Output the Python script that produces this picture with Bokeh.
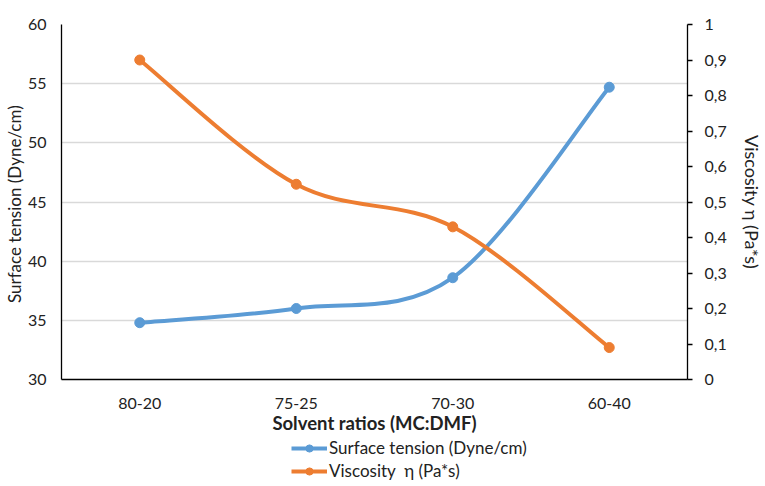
import numpy as np
from bokeh.plotting import figure
from bokeh.layouts import column
from bokeh.models import Range1d, LinearAxis, FixedTicker, Legend, LegendItem
from bokeh.embed import file_html
from bokeh.resources import INLINE

categories = ["80-20", "75-25", "70-30", "60-40"]
surface_tension = [34.8, 36.0, 38.6, 54.7]
viscosity = [0.90, 0.55, 0.43, 0.09]
left_ticks = [30, 35, 40, 45, 50, 55, 60]
right_ticks = [0.0, 0.1, 0.2, 0.3, 0.4, 0.5, 0.6, 0.7, 0.8, 0.9, 1.0]
right_tick_labels = ["0", "0,1", "0,2", "0,3", "0,4", "0,5", "0,6", "0,7", "0,8", "0,9", "1"]
series_names = ["Surface tension (Dyne/cm)", "Viscosity  η (Pa*s)"]

FONT = "Lato"
TXT = "#222222"
BLUE = "#5B9BD5"
ORANGE = "#ED7D31"

xs = np.arange(len(categories)) + 0.5


def smooth_segments(x, y):
    x = np.asarray(x, float)
    y = np.asarray(y, float)
    n = len(x)
    px = np.concatenate([[x[0]], x, [x[-1]]])
    py = np.concatenate([[y[0]], y, [y[-1]]])
    seg = dict(x0=[], y0=[], x1=[], y1=[], cx0=[], cy0=[], cx1=[], cy1=[])
    for i in range(n - 1):
        p0x, p0y = px[i], py[i]
        p1x, p1y = px[i + 1], py[i + 1]
        p2x, p2y = px[i + 2], py[i + 2]
        p3x, p3y = px[i + 3], py[i + 3]
        seg["x0"].append(p1x); seg["y0"].append(p1y)
        seg["x1"].append(p2x); seg["y1"].append(p2y)
        seg["cx0"].append(p1x + (p2x - p0x) / 6.0)
        seg["cy0"].append(p1y + (p2y - p0y) / 6.0)
        seg["cx1"].append(p2x - (p3x - p1x) / 6.0)
        seg["cy1"].append(p2y - (p3y - p1y) / 6.0)
    return seg


p = figure(width=765, height=437, output_backend="svg", toolbar_location=None,
           x_range=Range1d(0, len(categories)), y_range=Range1d(30, 60),
           min_border_left=61, min_border_right=78, min_border_top=24,
           min_border_bottom=58)
p.extra_y_ranges = {"visc": Range1d(0, 1)}
p.outline_line_color = None
p.background_fill_color = "white"
p.border_fill_color = "white"

# left axis
ya = p.yaxis[0]
ya.ticker = FixedTicker(ticks=left_ticks)
ya.axis_label = "Surface tension  (Dyne/cm)"
ya.axis_line_color = "black"
ya.axis_line_width = 1.3
ya.major_tick_line_color = None
ya.minor_tick_line_color = None
ya.major_label_standoff = 9
ya.axis_label_standoff = 0
ya.major_label_text_font = FONT
ya.major_label_text_font_size = "16px"
ya.major_label_text_color = TXT
ya.axis_label_text_font = FONT
ya.axis_label_text_font_size = "17px"
ya.axis_label_text_font_style = "normal"
ya.axis_label_text_color = TXT

# bottom axis
xa = p.xaxis[0]
xa.ticker = FixedTicker(ticks=list(xs))
xa.major_label_overrides = {float(v): c for v, c in zip(xs, categories)}
xa.axis_label = "Solvent ratios (MC:DMF)"
xa.axis_line_color = "black"
xa.axis_line_width = 1.3
xa.major_tick_line_color = None
xa.minor_tick_line_color = None
xa.major_label_standoff = 12
xa.axis_label_standoff = 0
xa.major_label_text_font = FONT
xa.major_label_text_font_size = "16px"
xa.major_label_text_color = TXT
xa.axis_label_text_font = FONT
xa.axis_label_text_font_size = "18.5px"
xa.axis_label_text_font_style = "bold"
xa.axis_label_text_color = TXT

# right axis
ra = LinearAxis(y_range_name="visc", ticker=FixedTicker(ticks=right_ticks))
ra.major_label_overrides = {float(v): s for v, s in zip(right_ticks, right_tick_labels)}
ra.axis_label = "Viscosity η (Pa*s)"
ra.axis_line_color = "black"
ra.axis_line_width = 1.3
ra.major_tick_line_color = "black"
ra.major_tick_line_width = 1.3
ra.major_tick_in = 0
ra.major_tick_out = 5
ra.minor_tick_line_color = None
ra.major_label_standoff = 12
ra.axis_label_standoff = 11
ra.major_label_text_font = FONT
ra.major_label_text_font_size = "16px"
ra.major_label_text_color = TXT
ra.axis_label_text_font = FONT
ra.axis_label_text_font_size = "18px"
ra.axis_label_text_font_style = "normal"
ra.axis_label_text_color = TXT
p.add_layout(ra, "right")

p.xgrid.grid_line_color = None
p.ygrid.grid_line_color = "#D9D9D9"
p.ygrid.grid_line_width = 1.3
p.ygrid.ticker = FixedTicker(ticks=left_ticks)

# series
s1 = smooth_segments(xs, surface_tension)
p.bezier(x0="x0", y0="y0", x1="x1", y1="y1", cx0="cx0", cy0="cy0", cx1="cx1", cy1="cy1",
         source=s1, line_color=BLUE, line_width=4, line_cap="round")
p.scatter(xs, surface_tension, size=10, fill_color=BLUE, line_color=BLUE)

s2 = smooth_segments(xs, viscosity)
p.bezier(x0="x0", y0="y0", x1="x1", y1="y1", cx0="cx0", cy0="cy0", cx1="cx1", cy1="cy1",
         source=s2, line_color=ORANGE, line_width=4, line_cap="round", y_range_name="visc")
p.scatter(xs, viscosity, size=10, fill_color=ORANGE, line_color=ORANGE, y_range_name="visc")

# legend strip below the chart
lg = figure(width=765, height=49, output_backend="svg", toolbar_location=None,
            x_range=Range1d(0, 1), y_range=Range1d(0, 1),
            min_border=0, min_border_left=0, min_border_right=0,
            min_border_top=0, min_border_bottom=0)
lg.axis.visible = False
lg.grid.visible = False
lg.outline_line_color = None
lg.border_fill_color = "white"
lg.background_fill_color = "white"

items = []
for name, col in zip(series_names, [BLUE, ORANGE]):
    lr = lg.line(x=[-5, -4], y=[-5, -4], line_color=col, line_width=4)
    mr = lg.scatter(x=[-5], y=[-5], size=9, fill_color=col, line_color=col)
    items.append(LegendItem(label=name, renderers=[lr, mr]))

legend = Legend(items=items, location=(230, 5), orientation="vertical")
legend.label_text_font = FONT
legend.label_text_font_size = "17px"
legend.label_text_color = TXT
legend.glyph_width = 36
legend.glyph_height = 18
legend.label_standoff = 2
legend.label_height = 18
legend.spacing = 2
legend.padding = 0
legend.margin = 0
legend.border_line_color = None
legend.background_fill_alpha = 0
lg.add_layout(legend, "center")

layout = column(p, lg, spacing=0)
open("out.html", "w").write(file_html(layout, INLINE))
